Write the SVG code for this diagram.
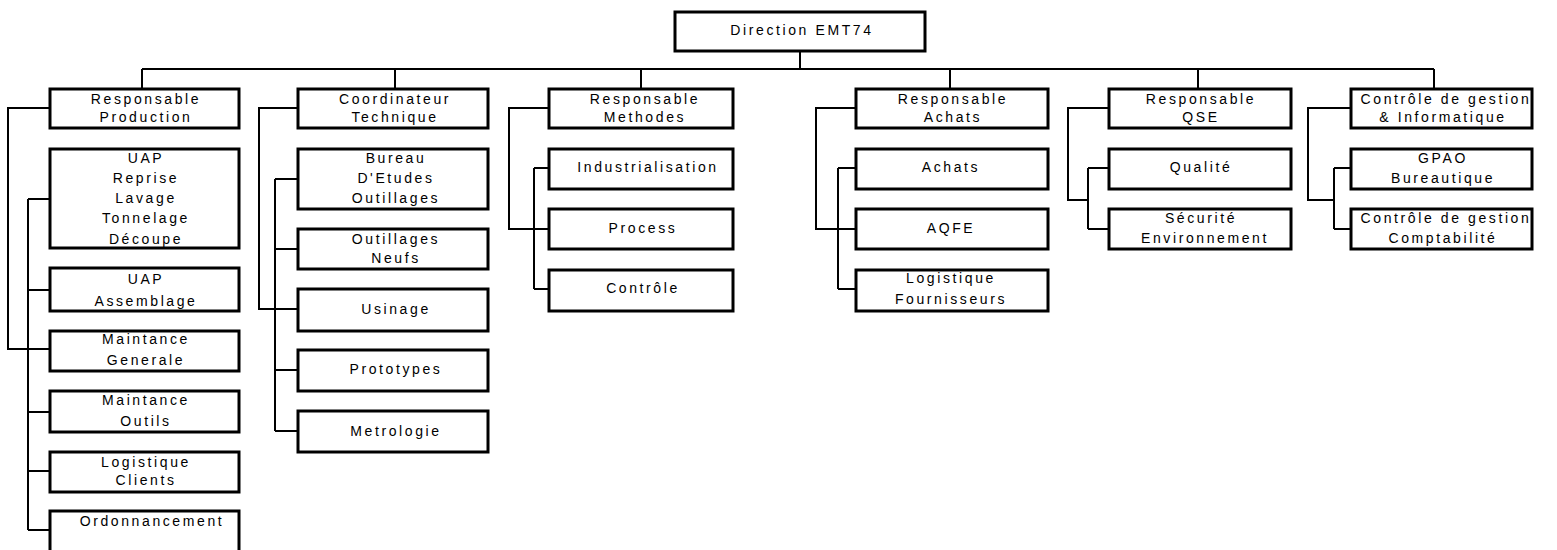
<svg xmlns="http://www.w3.org/2000/svg" width="1557" height="550" viewBox="0 0 1557 550">
<style>
.b{fill:#fff;stroke:#000;stroke-width:3}
.c{fill:none;stroke:#000;stroke-width:2}
text{font-family:"Liberation Sans",Arial,sans-serif;font-size:14px;letter-spacing:2.6px;text-anchor:middle;fill:#000}
</style>
<rect width="1557" height="550" fill="#fff"/>
<g id="connectors">
<path class="c" d="M800 51V69M142 69H1434M142 69V89M395 69V89M641 69V89M950 69V89M1198 69V89M1434 69V89"/>
<path class="c" d="M50 108H8V349H50M28 199V530M28 199H50M28 290H50M28 412H50M28 471H50M28 530H50"/>
<path class="c" d="M298 108H259V309H298M275 179V431M275 179H298M275 249H298M275 370H298M275 431H298"/>
<path class="c" d="M549 108H509V229H549M534 168V289M534 168H549M534 289H549"/>
<path class="c" d="M856 108H816V229H856M838 168V289M838 168H856M838 289H856"/>
<path class="c" d="M1109 108H1068V200H1088M1088 168V229M1088 168H1109M1088 229H1109"/>
<path class="c" d="M1351 108H1308V200H1334M1334 168V229M1334 168H1351M1334 229H1351"/>
</g>
<g id="direction"><rect class="b" x="675" y="12" width="250" height="39"/><text x="802" y="35">Direction EMT74</text></g>
<g id="resp-production"><rect class="b" x="50" y="89" width="189" height="39"/><text x="146" y="104">Responsable</text><text x="146" y="122">Production</text></g>
<g id="uap-reprise"><rect class="b" x="50" y="149" width="189" height="99"/><text x="146" y="163">UAP</text><text x="146" y="183">Reprise</text><text x="146" y="203">Lavage</text><text x="146" y="223">Tonnelage</text><text x="146" y="244">Découpe</text></g>
<g id="uap-assemblage"><rect class="b" x="50" y="268" width="189" height="43"/><text x="146" y="284">UAP</text><text x="146" y="306">Assemblage</text></g>
<g id="maintance-generale"><rect class="b" x="50" y="331" width="189" height="40"/><text x="146" y="344">Maintance</text><text x="146" y="365">Generale</text></g>
<g id="maintance-outils"><rect class="b" x="50" y="391" width="189" height="41"/><text x="146" y="405">Maintance</text><text x="146" y="426">Outils</text></g>
<g id="logistique-clients"><rect class="b" x="50" y="452" width="189" height="40"/><text x="146" y="467">Logistique</text><text x="146" y="485">Clients</text></g>
<g id="ordonnancement"><rect class="b" x="50" y="511" width="189" height="45"/><text x="152" y="526">Ordonnancement</text></g>
<g id="coordinateur"><rect class="b" x="298" y="89" width="190" height="39"/><text x="395" y="104">Coordinateur</text><text x="395" y="122">Technique</text></g>
<g id="bureau-etudes"><rect class="b" x="298" y="149" width="190" height="60"/><text x="396" y="163">Bureau</text><text x="396" y="183">D'Etudes</text><text x="396" y="203">Outillages</text></g>
<g id="outillages-neufs"><rect class="b" x="298" y="229" width="190" height="40"/><text x="396" y="244">Outillages</text><text x="396" y="263">Neufs</text></g>
<g id="usinage"><rect class="b" x="298" y="289" width="190" height="42"/><text x="396" y="314">Usinage</text></g>
<g id="prototypes"><rect class="b" x="298" y="350" width="190" height="41"/><text x="396" y="374">Prototypes</text></g>
<g id="metrologie"><rect class="b" x="298" y="411" width="190" height="41"/><text x="396" y="436">Metrologie</text></g>
<g id="resp-methodes"><rect class="b" x="549" y="89" width="184" height="39"/><text x="645" y="104">Responsable</text><text x="645" y="122">Methodes</text></g>
<g id="industrialisation"><rect class="b" x="549" y="149" width="184" height="40"/><text x="648" y="172">Industrialisation</text></g>
<g id="process"><rect class="b" x="549" y="209" width="184" height="40"/><text x="643" y="233">Process</text></g>
<g id="controle"><rect class="b" x="549" y="270" width="184" height="41"/><text x="643" y="293">Contrôle</text></g>
<g id="resp-achats"><rect class="b" x="856" y="89" width="192" height="39"/><text x="953" y="104">Responsable</text><text x="953" y="122">Achats</text></g>
<g id="achats"><rect class="b" x="856" y="149" width="192" height="40"/><text x="951" y="172">Achats</text></g>
<g id="aqfe"><rect class="b" x="856" y="209" width="192" height="40"/><text x="951" y="233">AQFE</text></g>
<g id="logistique-fournisseurs"><rect class="b" x="856" y="270" width="192" height="41"/><text x="951" y="283">Logistique</text><text x="951" y="304">Fournisseurs</text></g>
<g id="resp-qse"><rect class="b" x="1109" y="89" width="182" height="39"/><text x="1201" y="104">Responsable</text><text x="1201" y="122">QSE</text></g>
<g id="qualite"><rect class="b" x="1109" y="149" width="182" height="40"/><text x="1201" y="172">Qualité</text></g>
<g id="securite"><rect class="b" x="1109" y="209" width="182" height="40"/><text x="1201" y="223">Sécurité</text><text x="1205" y="243">Environnement</text></g>
<g id="controle-gestion-info"><rect class="b" x="1351" y="89" width="181" height="39"/><text x="1446" y="104">Contrôle de gestion</text><text x="1443" y="122">&amp; Informatique</text></g>
<g id="gpao"><rect class="b" x="1351" y="149" width="181" height="40"/><text x="1443" y="163">GPAO</text><text x="1443" y="183">Bureautique</text></g>
<g id="controle-gestion-compta"><rect class="b" x="1351" y="209" width="181" height="40"/><text x="1446" y="223">Contrôle de gestion</text><text x="1443" y="243">Comptabilité</text></g>
</svg>
